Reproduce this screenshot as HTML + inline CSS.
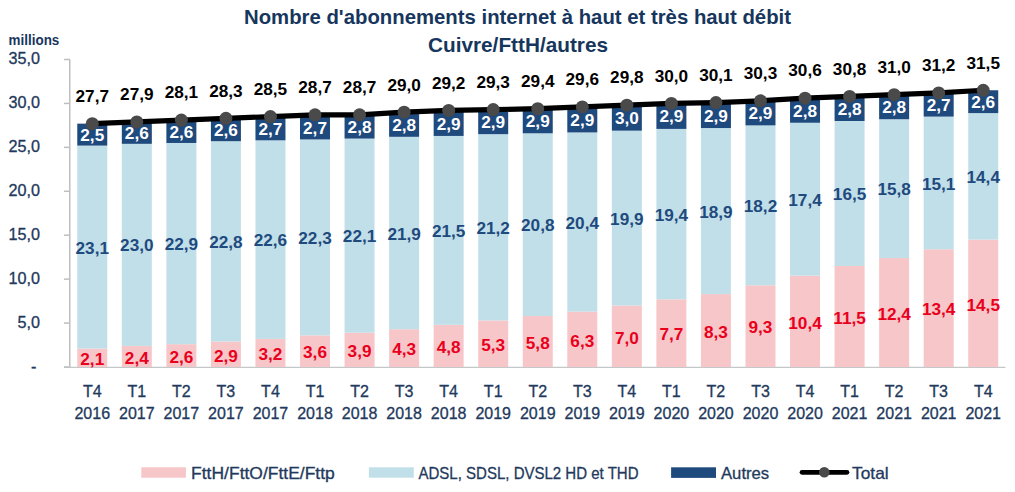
<!DOCTYPE html><html><head><meta charset="utf-8"><style>html,body{margin:0;padding:0;background:#fff;}svg{display:block;}text{font-family:"Liberation Sans",sans-serif;}</style></head><body>
<svg width="1015" height="492" viewBox="0 0 1015 492">
<rect width="1015" height="492" fill="#fff"/>
<text x="517.5" y="24.2" text-anchor="middle" font-size="20.5" font-weight="bold" fill="#17365D" textLength="547" lengthAdjust="spacingAndGlyphs">Nombre d'abonnements internet à haut et très haut débit</text>
<text x="518" y="51.7" text-anchor="middle" font-size="20.5" font-weight="bold" fill="#17365D" textLength="180" lengthAdjust="spacingAndGlyphs">Cuivre/FttH/autres</text>
<text x="8.6" y="44.7" font-size="14" font-weight="bold" fill="#17365D" textLength="50.7" lengthAdjust="spacingAndGlyphs">millions</text>
<line x1="69.75" y1="59.5" x2="69.75" y2="367" stroke="#BFBFBF" stroke-width="1.5"/>
<line x1="64" y1="367.4" x2="1005.5" y2="367.4" stroke="#C4C8C8" stroke-width="1.2"/>
<line x1="64" y1="367.00" x2="70" y2="367.00" stroke="#BFBFBF" stroke-width="1.5"/>
<text x="36.5" y="371.50" text-anchor="end" font-size="16.2" fill="#22395C" stroke="#22395C" stroke-width="0.3">-</text>
<line x1="64" y1="323.07" x2="70" y2="323.07" stroke="#BFBFBF" stroke-width="1.5"/>
<text x="40" y="327.57" text-anchor="end" font-size="16.2" fill="#22395C" stroke="#22395C" stroke-width="0.3">5,0</text>
<line x1="64" y1="279.14" x2="70" y2="279.14" stroke="#BFBFBF" stroke-width="1.5"/>
<text x="40" y="283.64" text-anchor="end" font-size="16.2" fill="#22395C" stroke="#22395C" stroke-width="0.3">10,0</text>
<line x1="64" y1="235.21" x2="70" y2="235.21" stroke="#BFBFBF" stroke-width="1.5"/>
<text x="40" y="239.71" text-anchor="end" font-size="16.2" fill="#22395C" stroke="#22395C" stroke-width="0.3">15,0</text>
<line x1="64" y1="191.29" x2="70" y2="191.29" stroke="#BFBFBF" stroke-width="1.5"/>
<text x="40" y="195.79" text-anchor="end" font-size="16.2" fill="#22395C" stroke="#22395C" stroke-width="0.3">20,0</text>
<line x1="64" y1="147.36" x2="70" y2="147.36" stroke="#BFBFBF" stroke-width="1.5"/>
<text x="40" y="151.86" text-anchor="end" font-size="16.2" fill="#22395C" stroke="#22395C" stroke-width="0.3">25,0</text>
<line x1="64" y1="103.43" x2="70" y2="103.43" stroke="#BFBFBF" stroke-width="1.5"/>
<text x="40" y="107.93" text-anchor="end" font-size="16.2" fill="#22395C" stroke="#22395C" stroke-width="0.3">30,0</text>
<line x1="64" y1="59.50" x2="70" y2="59.50" stroke="#BFBFBF" stroke-width="1.5"/>
<text x="40" y="64.00" text-anchor="end" font-size="16.2" fill="#22395C" stroke="#22395C" stroke-width="0.3">35,0</text>
<rect x="77.27" y="348.55" width="30.0" height="18.45" fill="#F7C6C9"/>
<rect x="77.27" y="145.60" width="30.0" height="202.95" fill="#C1DFE9"/>
<rect x="77.27" y="123.64" width="30.0" height="21.96" fill="#1F4A7E"/>
<rect x="121.82" y="345.91" width="30.0" height="21.09" fill="#F7C6C9"/>
<rect x="121.82" y="143.84" width="30.0" height="202.07" fill="#C1DFE9"/>
<rect x="121.82" y="121.00" width="30.0" height="22.84" fill="#1F4A7E"/>
<rect x="166.37" y="344.16" width="30.0" height="22.84" fill="#F7C6C9"/>
<rect x="166.37" y="142.96" width="30.0" height="201.19" fill="#C1DFE9"/>
<rect x="166.37" y="120.12" width="30.0" height="22.84" fill="#1F4A7E"/>
<rect x="210.92" y="341.52" width="30.0" height="25.48" fill="#F7C6C9"/>
<rect x="210.92" y="141.21" width="30.0" height="200.31" fill="#C1DFE9"/>
<rect x="210.92" y="118.36" width="30.0" height="22.84" fill="#1F4A7E"/>
<rect x="255.46" y="338.89" width="30.0" height="28.11" fill="#F7C6C9"/>
<rect x="255.46" y="140.33" width="30.0" height="198.56" fill="#C1DFE9"/>
<rect x="255.46" y="116.61" width="30.0" height="23.72" fill="#1F4A7E"/>
<rect x="300.01" y="335.37" width="30.0" height="31.63" fill="#F7C6C9"/>
<rect x="300.01" y="139.45" width="30.0" height="195.92" fill="#C1DFE9"/>
<rect x="300.01" y="115.73" width="30.0" height="23.72" fill="#1F4A7E"/>
<rect x="344.56" y="332.74" width="30.0" height="34.26" fill="#F7C6C9"/>
<rect x="344.56" y="138.57" width="30.0" height="194.16" fill="#C1DFE9"/>
<rect x="344.56" y="113.97" width="30.0" height="24.60" fill="#1F4A7E"/>
<rect x="389.11" y="329.22" width="30.0" height="37.78" fill="#F7C6C9"/>
<rect x="389.11" y="136.81" width="30.0" height="192.41" fill="#C1DFE9"/>
<rect x="389.11" y="112.21" width="30.0" height="24.60" fill="#1F4A7E"/>
<rect x="433.65" y="324.83" width="30.0" height="42.17" fill="#F7C6C9"/>
<rect x="433.65" y="135.94" width="30.0" height="188.89" fill="#C1DFE9"/>
<rect x="433.65" y="110.46" width="30.0" height="25.48" fill="#1F4A7E"/>
<rect x="478.20" y="320.44" width="30.0" height="46.56" fill="#F7C6C9"/>
<rect x="478.20" y="134.18" width="30.0" height="186.26" fill="#C1DFE9"/>
<rect x="478.20" y="108.70" width="30.0" height="25.48" fill="#1F4A7E"/>
<rect x="522.75" y="316.04" width="30.0" height="50.96" fill="#F7C6C9"/>
<rect x="522.75" y="133.30" width="30.0" height="182.74" fill="#C1DFE9"/>
<rect x="522.75" y="107.82" width="30.0" height="25.48" fill="#1F4A7E"/>
<rect x="567.30" y="311.65" width="30.0" height="55.35" fill="#F7C6C9"/>
<rect x="567.30" y="132.42" width="30.0" height="179.23" fill="#C1DFE9"/>
<rect x="567.30" y="106.94" width="30.0" height="25.48" fill="#1F4A7E"/>
<rect x="611.85" y="305.50" width="30.0" height="61.50" fill="#F7C6C9"/>
<rect x="611.85" y="130.66" width="30.0" height="174.84" fill="#C1DFE9"/>
<rect x="611.85" y="104.31" width="30.0" height="26.36" fill="#1F4A7E"/>
<rect x="656.39" y="299.35" width="30.0" height="67.65" fill="#F7C6C9"/>
<rect x="656.39" y="128.91" width="30.0" height="170.44" fill="#C1DFE9"/>
<rect x="656.39" y="103.43" width="30.0" height="25.48" fill="#1F4A7E"/>
<rect x="700.94" y="294.08" width="30.0" height="72.92" fill="#F7C6C9"/>
<rect x="700.94" y="128.03" width="30.0" height="166.05" fill="#C1DFE9"/>
<rect x="700.94" y="102.55" width="30.0" height="25.48" fill="#1F4A7E"/>
<rect x="745.49" y="285.29" width="30.0" height="81.71" fill="#F7C6C9"/>
<rect x="745.49" y="125.39" width="30.0" height="159.90" fill="#C1DFE9"/>
<rect x="745.49" y="99.91" width="30.0" height="25.48" fill="#1F4A7E"/>
<rect x="790.04" y="275.63" width="30.0" height="91.37" fill="#F7C6C9"/>
<rect x="790.04" y="122.76" width="30.0" height="152.87" fill="#C1DFE9"/>
<rect x="790.04" y="98.16" width="30.0" height="24.60" fill="#1F4A7E"/>
<rect x="834.58" y="265.96" width="30.0" height="101.04" fill="#F7C6C9"/>
<rect x="834.58" y="121.00" width="30.0" height="144.96" fill="#C1DFE9"/>
<rect x="834.58" y="96.40" width="30.0" height="24.60" fill="#1F4A7E"/>
<rect x="879.13" y="258.06" width="30.0" height="108.94" fill="#F7C6C9"/>
<rect x="879.13" y="119.24" width="30.0" height="138.81" fill="#C1DFE9"/>
<rect x="879.13" y="94.64" width="30.0" height="24.60" fill="#1F4A7E"/>
<rect x="923.68" y="249.27" width="30.0" height="117.73" fill="#F7C6C9"/>
<rect x="923.68" y="116.61" width="30.0" height="132.66" fill="#C1DFE9"/>
<rect x="923.68" y="92.89" width="30.0" height="23.72" fill="#1F4A7E"/>
<rect x="968.23" y="239.61" width="30.0" height="127.39" fill="#F7C6C9"/>
<rect x="968.23" y="113.09" width="30.0" height="126.51" fill="#C1DFE9"/>
<rect x="968.23" y="90.25" width="30.0" height="22.84" fill="#1F4A7E"/>
<polyline points="92.27,123.64 136.82,121.88 181.37,120.12 225.92,118.36 270.46,116.61 315.01,114.85 359.56,114.85 404.11,112.21 448.65,110.46 493.20,109.58 537.75,108.70 582.30,106.94 626.85,105.19 671.39,103.43 715.94,102.55 760.49,100.79 805.04,98.16 849.58,96.40 894.13,94.64 938.68,92.89 983.23,90.25" fill="none" stroke="#000" stroke-width="5.2" stroke-linejoin="round"/>
<circle cx="92.27" cy="123.64" r="6.5" fill="#4A4A4A"/>
<circle cx="136.82" cy="121.88" r="6.5" fill="#4A4A4A"/>
<circle cx="181.37" cy="120.12" r="6.5" fill="#4A4A4A"/>
<circle cx="225.92" cy="118.36" r="6.5" fill="#4A4A4A"/>
<circle cx="270.46" cy="116.61" r="6.5" fill="#4A4A4A"/>
<circle cx="315.01" cy="114.85" r="6.5" fill="#4A4A4A"/>
<circle cx="359.56" cy="114.85" r="6.5" fill="#4A4A4A"/>
<circle cx="404.11" cy="112.21" r="6.5" fill="#4A4A4A"/>
<circle cx="448.65" cy="110.46" r="6.5" fill="#4A4A4A"/>
<circle cx="493.20" cy="109.58" r="6.5" fill="#4A4A4A"/>
<circle cx="537.75" cy="108.70" r="6.5" fill="#4A4A4A"/>
<circle cx="582.30" cy="106.94" r="6.5" fill="#4A4A4A"/>
<circle cx="626.85" cy="105.19" r="6.5" fill="#4A4A4A"/>
<circle cx="671.39" cy="103.43" r="6.5" fill="#4A4A4A"/>
<circle cx="715.94" cy="102.55" r="6.5" fill="#4A4A4A"/>
<circle cx="760.49" cy="100.79" r="6.5" fill="#4A4A4A"/>
<circle cx="805.04" cy="98.16" r="6.5" fill="#4A4A4A"/>
<circle cx="849.58" cy="96.40" r="6.5" fill="#4A4A4A"/>
<circle cx="894.13" cy="94.64" r="6.5" fill="#4A4A4A"/>
<circle cx="938.68" cy="92.89" r="6.5" fill="#4A4A4A"/>
<circle cx="983.23" cy="90.25" r="6.5" fill="#4A4A4A"/>
<text x="92.27" y="365.07" text-anchor="middle" font-size="17.2" font-weight="bold" fill="#E8001C">2,1</text>
<text x="92.27" y="253.67" text-anchor="middle" font-size="17.2" font-weight="bold" fill="#1F4A7E">23,1</text>
<text x="92.27" y="140.92" text-anchor="middle" font-size="17.2" font-weight="bold" fill="#fff">2,5</text>
<text x="92.27" y="101.94" text-anchor="middle" font-size="17.2" font-weight="bold" fill="#000">27,7</text>
<text x="92.27" y="396.9" text-anchor="middle" font-size="16" fill="#22395C" stroke="#22395C" stroke-width="0.3">T4</text>
<text x="92.27" y="419" text-anchor="middle" font-size="16" fill="#22395C" stroke="#22395C" stroke-width="0.3">2016</text>
<text x="136.82" y="363.76" text-anchor="middle" font-size="17.2" font-weight="bold" fill="#E8001C">2,4</text>
<text x="136.82" y="251.48" text-anchor="middle" font-size="17.2" font-weight="bold" fill="#1F4A7E">23,0</text>
<text x="136.82" y="138.72" text-anchor="middle" font-size="17.2" font-weight="bold" fill="#fff">2,6</text>
<text x="136.82" y="100.18" text-anchor="middle" font-size="17.2" font-weight="bold" fill="#000">27,9</text>
<text x="136.82" y="396.9" text-anchor="middle" font-size="16" fill="#22395C" stroke="#22395C" stroke-width="0.3">T1</text>
<text x="136.82" y="419" text-anchor="middle" font-size="16" fill="#22395C" stroke="#22395C" stroke-width="0.3">2017</text>
<text x="181.37" y="362.88" text-anchor="middle" font-size="17.2" font-weight="bold" fill="#E8001C">2,6</text>
<text x="181.37" y="250.16" text-anchor="middle" font-size="17.2" font-weight="bold" fill="#1F4A7E">22,9</text>
<text x="181.37" y="137.84" text-anchor="middle" font-size="17.2" font-weight="bold" fill="#fff">2,6</text>
<text x="181.37" y="98.42" text-anchor="middle" font-size="17.2" font-weight="bold" fill="#000">28,1</text>
<text x="181.37" y="396.9" text-anchor="middle" font-size="16" fill="#22395C" stroke="#22395C" stroke-width="0.3">T2</text>
<text x="181.37" y="419" text-anchor="middle" font-size="16" fill="#22395C" stroke="#22395C" stroke-width="0.3">2017</text>
<text x="225.92" y="361.56" text-anchor="middle" font-size="17.2" font-weight="bold" fill="#E8001C">2,9</text>
<text x="225.92" y="247.96" text-anchor="middle" font-size="17.2" font-weight="bold" fill="#1F4A7E">22,8</text>
<text x="225.92" y="136.09" text-anchor="middle" font-size="17.2" font-weight="bold" fill="#fff">2,6</text>
<text x="225.92" y="96.66" text-anchor="middle" font-size="17.2" font-weight="bold" fill="#000">28,3</text>
<text x="225.92" y="396.9" text-anchor="middle" font-size="16" fill="#22395C" stroke="#22395C" stroke-width="0.3">T3</text>
<text x="225.92" y="419" text-anchor="middle" font-size="16" fill="#22395C" stroke="#22395C" stroke-width="0.3">2017</text>
<text x="270.46" y="360.24" text-anchor="middle" font-size="17.2" font-weight="bold" fill="#E8001C">3,2</text>
<text x="270.46" y="246.21" text-anchor="middle" font-size="17.2" font-weight="bold" fill="#1F4A7E">22,6</text>
<text x="270.46" y="134.77" text-anchor="middle" font-size="17.2" font-weight="bold" fill="#fff">2,7</text>
<text x="270.46" y="94.91" text-anchor="middle" font-size="17.2" font-weight="bold" fill="#000">28,5</text>
<text x="270.46" y="396.9" text-anchor="middle" font-size="16" fill="#22395C" stroke="#22395C" stroke-width="0.3">T4</text>
<text x="270.46" y="419" text-anchor="middle" font-size="16" fill="#22395C" stroke="#22395C" stroke-width="0.3">2017</text>
<text x="315.01" y="358.49" text-anchor="middle" font-size="17.2" font-weight="bold" fill="#E8001C">3,6</text>
<text x="315.01" y="244.01" text-anchor="middle" font-size="17.2" font-weight="bold" fill="#1F4A7E">22,3</text>
<text x="315.01" y="133.89" text-anchor="middle" font-size="17.2" font-weight="bold" fill="#fff">2,7</text>
<text x="315.01" y="93.15" text-anchor="middle" font-size="17.2" font-weight="bold" fill="#000">28,7</text>
<text x="315.01" y="396.9" text-anchor="middle" font-size="16" fill="#22395C" stroke="#22395C" stroke-width="0.3">T1</text>
<text x="315.01" y="419" text-anchor="middle" font-size="16" fill="#22395C" stroke="#22395C" stroke-width="0.3">2018</text>
<text x="359.56" y="357.17" text-anchor="middle" font-size="17.2" font-weight="bold" fill="#E8001C">3,9</text>
<text x="359.56" y="242.25" text-anchor="middle" font-size="17.2" font-weight="bold" fill="#1F4A7E">22,1</text>
<text x="359.56" y="132.57" text-anchor="middle" font-size="17.2" font-weight="bold" fill="#fff">2,8</text>
<text x="359.56" y="93.15" text-anchor="middle" font-size="17.2" font-weight="bold" fill="#000">28,7</text>
<text x="359.56" y="396.9" text-anchor="middle" font-size="16" fill="#22395C" stroke="#22395C" stroke-width="0.3">T2</text>
<text x="359.56" y="419" text-anchor="middle" font-size="16" fill="#22395C" stroke="#22395C" stroke-width="0.3">2018</text>
<text x="404.11" y="355.41" text-anchor="middle" font-size="17.2" font-weight="bold" fill="#E8001C">4,3</text>
<text x="404.11" y="239.62" text-anchor="middle" font-size="17.2" font-weight="bold" fill="#1F4A7E">21,9</text>
<text x="404.11" y="130.81" text-anchor="middle" font-size="17.2" font-weight="bold" fill="#fff">2,8</text>
<text x="404.11" y="90.51" text-anchor="middle" font-size="17.2" font-weight="bold" fill="#000">29,0</text>
<text x="404.11" y="396.9" text-anchor="middle" font-size="16" fill="#22395C" stroke="#22395C" stroke-width="0.3">T3</text>
<text x="404.11" y="419" text-anchor="middle" font-size="16" fill="#22395C" stroke="#22395C" stroke-width="0.3">2018</text>
<text x="448.65" y="353.21" text-anchor="middle" font-size="17.2" font-weight="bold" fill="#E8001C">4,8</text>
<text x="448.65" y="236.98" text-anchor="middle" font-size="17.2" font-weight="bold" fill="#1F4A7E">21,5</text>
<text x="448.65" y="129.50" text-anchor="middle" font-size="17.2" font-weight="bold" fill="#fff">2,9</text>
<text x="448.65" y="88.76" text-anchor="middle" font-size="17.2" font-weight="bold" fill="#000">29,2</text>
<text x="448.65" y="396.9" text-anchor="middle" font-size="16" fill="#22395C" stroke="#22395C" stroke-width="0.3">T4</text>
<text x="448.65" y="419" text-anchor="middle" font-size="16" fill="#22395C" stroke="#22395C" stroke-width="0.3">2018</text>
<text x="493.20" y="351.02" text-anchor="middle" font-size="17.2" font-weight="bold" fill="#E8001C">5,3</text>
<text x="493.20" y="233.91" text-anchor="middle" font-size="17.2" font-weight="bold" fill="#1F4A7E">21,2</text>
<text x="493.20" y="127.74" text-anchor="middle" font-size="17.2" font-weight="bold" fill="#fff">2,9</text>
<text x="493.20" y="87.88" text-anchor="middle" font-size="17.2" font-weight="bold" fill="#000">29,3</text>
<text x="493.20" y="396.9" text-anchor="middle" font-size="16" fill="#22395C" stroke="#22395C" stroke-width="0.3">T1</text>
<text x="493.20" y="419" text-anchor="middle" font-size="16" fill="#22395C" stroke="#22395C" stroke-width="0.3">2019</text>
<text x="537.75" y="348.82" text-anchor="middle" font-size="17.2" font-weight="bold" fill="#E8001C">5,8</text>
<text x="537.75" y="231.27" text-anchor="middle" font-size="17.2" font-weight="bold" fill="#1F4A7E">20,8</text>
<text x="537.75" y="126.86" text-anchor="middle" font-size="17.2" font-weight="bold" fill="#fff">2,9</text>
<text x="537.75" y="87.00" text-anchor="middle" font-size="17.2" font-weight="bold" fill="#000">29,4</text>
<text x="537.75" y="396.9" text-anchor="middle" font-size="16" fill="#22395C" stroke="#22395C" stroke-width="0.3">T2</text>
<text x="537.75" y="419" text-anchor="middle" font-size="16" fill="#22395C" stroke="#22395C" stroke-width="0.3">2019</text>
<text x="582.30" y="346.62" text-anchor="middle" font-size="17.2" font-weight="bold" fill="#E8001C">6,3</text>
<text x="582.30" y="228.64" text-anchor="middle" font-size="17.2" font-weight="bold" fill="#1F4A7E">20,4</text>
<text x="582.30" y="125.98" text-anchor="middle" font-size="17.2" font-weight="bold" fill="#fff">2,9</text>
<text x="582.30" y="85.24" text-anchor="middle" font-size="17.2" font-weight="bold" fill="#000">29,6</text>
<text x="582.30" y="396.9" text-anchor="middle" font-size="16" fill="#22395C" stroke="#22395C" stroke-width="0.3">T3</text>
<text x="582.30" y="419" text-anchor="middle" font-size="16" fill="#22395C" stroke="#22395C" stroke-width="0.3">2019</text>
<text x="626.85" y="343.55" text-anchor="middle" font-size="17.2" font-weight="bold" fill="#E8001C">7,0</text>
<text x="626.85" y="224.68" text-anchor="middle" font-size="17.2" font-weight="bold" fill="#1F4A7E">19,9</text>
<text x="626.85" y="123.79" text-anchor="middle" font-size="17.2" font-weight="bold" fill="#fff">3,0</text>
<text x="626.85" y="83.49" text-anchor="middle" font-size="17.2" font-weight="bold" fill="#000">29,8</text>
<text x="626.85" y="396.9" text-anchor="middle" font-size="16" fill="#22395C" stroke="#22395C" stroke-width="0.3">T4</text>
<text x="626.85" y="419" text-anchor="middle" font-size="16" fill="#22395C" stroke="#22395C" stroke-width="0.3">2019</text>
<text x="671.39" y="340.48" text-anchor="middle" font-size="17.2" font-weight="bold" fill="#E8001C">7,7</text>
<text x="671.39" y="220.73" text-anchor="middle" font-size="17.2" font-weight="bold" fill="#1F4A7E">19,4</text>
<text x="671.39" y="122.47" text-anchor="middle" font-size="17.2" font-weight="bold" fill="#fff">2,9</text>
<text x="671.39" y="81.73" text-anchor="middle" font-size="17.2" font-weight="bold" fill="#000">30,0</text>
<text x="671.39" y="396.9" text-anchor="middle" font-size="16" fill="#22395C" stroke="#22395C" stroke-width="0.3">T1</text>
<text x="671.39" y="419" text-anchor="middle" font-size="16" fill="#22395C" stroke="#22395C" stroke-width="0.3">2020</text>
<text x="715.94" y="337.84" text-anchor="middle" font-size="17.2" font-weight="bold" fill="#E8001C">8,3</text>
<text x="715.94" y="217.65" text-anchor="middle" font-size="17.2" font-weight="bold" fill="#1F4A7E">18,9</text>
<text x="715.94" y="121.59" text-anchor="middle" font-size="17.2" font-weight="bold" fill="#fff">2,9</text>
<text x="715.94" y="80.85" text-anchor="middle" font-size="17.2" font-weight="bold" fill="#000">30,1</text>
<text x="715.94" y="396.9" text-anchor="middle" font-size="16" fill="#22395C" stroke="#22395C" stroke-width="0.3">T2</text>
<text x="715.94" y="419" text-anchor="middle" font-size="16" fill="#22395C" stroke="#22395C" stroke-width="0.3">2020</text>
<text x="760.49" y="333.45" text-anchor="middle" font-size="17.2" font-weight="bold" fill="#E8001C">9,3</text>
<text x="760.49" y="211.94" text-anchor="middle" font-size="17.2" font-weight="bold" fill="#1F4A7E">18,2</text>
<text x="760.49" y="118.95" text-anchor="middle" font-size="17.2" font-weight="bold" fill="#fff">2,9</text>
<text x="760.49" y="79.09" text-anchor="middle" font-size="17.2" font-weight="bold" fill="#000">30,3</text>
<text x="760.49" y="396.9" text-anchor="middle" font-size="16" fill="#22395C" stroke="#22395C" stroke-width="0.3">T3</text>
<text x="760.49" y="419" text-anchor="middle" font-size="16" fill="#22395C" stroke="#22395C" stroke-width="0.3">2020</text>
<text x="805.04" y="328.61" text-anchor="middle" font-size="17.2" font-weight="bold" fill="#E8001C">10,4</text>
<text x="805.04" y="205.79" text-anchor="middle" font-size="17.2" font-weight="bold" fill="#1F4A7E">17,4</text>
<text x="805.04" y="116.76" text-anchor="middle" font-size="17.2" font-weight="bold" fill="#fff">2,8</text>
<text x="805.04" y="76.46" text-anchor="middle" font-size="17.2" font-weight="bold" fill="#000">30,6</text>
<text x="805.04" y="396.9" text-anchor="middle" font-size="16" fill="#22395C" stroke="#22395C" stroke-width="0.3">T4</text>
<text x="805.04" y="419" text-anchor="middle" font-size="16" fill="#22395C" stroke="#22395C" stroke-width="0.3">2020</text>
<text x="849.58" y="323.78" text-anchor="middle" font-size="17.2" font-weight="bold" fill="#E8001C">11,5</text>
<text x="849.58" y="200.08" text-anchor="middle" font-size="17.2" font-weight="bold" fill="#1F4A7E">16,5</text>
<text x="849.58" y="115.00" text-anchor="middle" font-size="17.2" font-weight="bold" fill="#fff">2,8</text>
<text x="849.58" y="74.70" text-anchor="middle" font-size="17.2" font-weight="bold" fill="#000">30,8</text>
<text x="849.58" y="396.9" text-anchor="middle" font-size="16" fill="#22395C" stroke="#22395C" stroke-width="0.3">T1</text>
<text x="849.58" y="419" text-anchor="middle" font-size="16" fill="#22395C" stroke="#22395C" stroke-width="0.3">2021</text>
<text x="894.13" y="319.83" text-anchor="middle" font-size="17.2" font-weight="bold" fill="#E8001C">12,4</text>
<text x="894.13" y="195.25" text-anchor="middle" font-size="17.2" font-weight="bold" fill="#1F4A7E">15,8</text>
<text x="894.13" y="113.24" text-anchor="middle" font-size="17.2" font-weight="bold" fill="#fff">2,8</text>
<text x="894.13" y="72.94" text-anchor="middle" font-size="17.2" font-weight="bold" fill="#000">31,0</text>
<text x="894.13" y="396.9" text-anchor="middle" font-size="16" fill="#22395C" stroke="#22395C" stroke-width="0.3">T2</text>
<text x="894.13" y="419" text-anchor="middle" font-size="16" fill="#22395C" stroke="#22395C" stroke-width="0.3">2021</text>
<text x="938.68" y="315.44" text-anchor="middle" font-size="17.2" font-weight="bold" fill="#E8001C">13,4</text>
<text x="938.68" y="189.54" text-anchor="middle" font-size="17.2" font-weight="bold" fill="#1F4A7E">15,1</text>
<text x="938.68" y="111.05" text-anchor="middle" font-size="17.2" font-weight="bold" fill="#fff">2,7</text>
<text x="938.68" y="71.19" text-anchor="middle" font-size="17.2" font-weight="bold" fill="#000">31,2</text>
<text x="938.68" y="396.9" text-anchor="middle" font-size="16" fill="#22395C" stroke="#22395C" stroke-width="0.3">T3</text>
<text x="938.68" y="419" text-anchor="middle" font-size="16" fill="#22395C" stroke="#22395C" stroke-width="0.3">2021</text>
<text x="983.23" y="310.60" text-anchor="middle" font-size="17.2" font-weight="bold" fill="#E8001C">14,5</text>
<text x="983.23" y="182.95" text-anchor="middle" font-size="17.2" font-weight="bold" fill="#1F4A7E">14,4</text>
<text x="983.23" y="107.97" text-anchor="middle" font-size="17.2" font-weight="bold" fill="#fff">2,6</text>
<text x="983.23" y="68.55" text-anchor="middle" font-size="17.2" font-weight="bold" fill="#000">31,5</text>
<text x="983.23" y="396.9" text-anchor="middle" font-size="16" fill="#22395C" stroke="#22395C" stroke-width="0.3">T4</text>
<text x="983.23" y="419" text-anchor="middle" font-size="16" fill="#22395C" stroke="#22395C" stroke-width="0.3">2021</text>
<rect x="141.3" y="467.3" width="44.6" height="10.4" fill="#F7C6C9"/>
<text x="191.1" y="478.5" font-size="16.5" fill="#22395C" stroke="#22395C" stroke-width="0.3" textLength="143.7" lengthAdjust="spacingAndGlyphs">FttH/FttO/FttE/Fttp</text>
<rect x="368.9" y="467.3" width="44.9" height="10.4" fill="#C1DFE9"/>
<text x="418.5" y="478.5" font-size="16.5" fill="#22395C" stroke="#22395C" stroke-width="0.3" textLength="220" lengthAdjust="spacingAndGlyphs">ADSL, SDSL, DVSL2 HD et THD</text>
<rect x="671.1" y="467.3" width="44.9" height="10.6" fill="#1F4A7E"/>
<text x="721" y="478.5" font-size="16.5" fill="#22395C" stroke="#22395C" stroke-width="0.3" textLength="48.2" lengthAdjust="spacingAndGlyphs">Autres</text>
<line x1="802" y1="472.3" x2="847" y2="472.3" stroke="#000" stroke-width="4.7" stroke-linecap="round"/>
<circle cx="824.3" cy="472.3" r="5.3" fill="#4A4A4A"/>
<text x="852" y="478.5" font-size="16.5" fill="#22395C" stroke="#22395C" stroke-width="0.3" textLength="36.7" lengthAdjust="spacingAndGlyphs">Total</text>
</svg></body></html>
